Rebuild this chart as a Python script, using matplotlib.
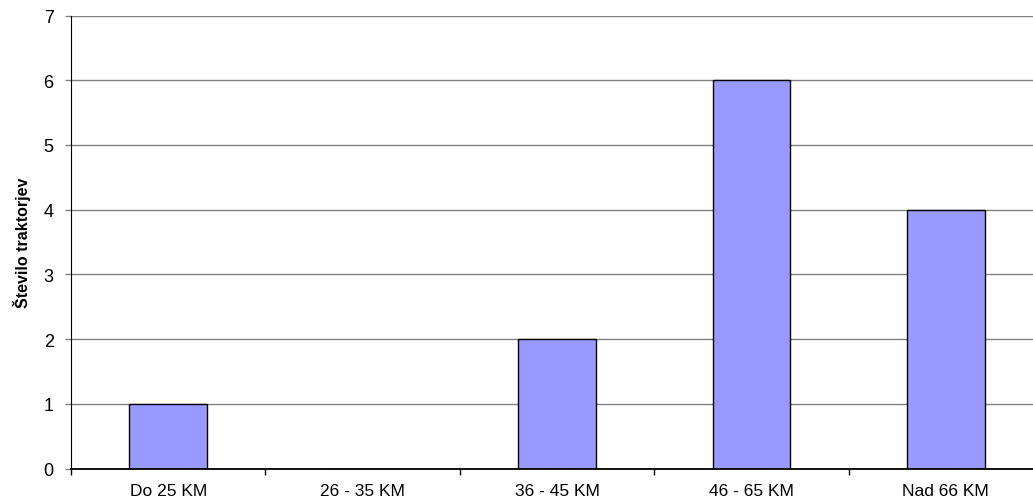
import matplotlib
matplotlib.use("Agg")
import matplotlib.pyplot as plt
import numpy as np

categories = ["Do 25 KM", "26 - 35 KM", "36 - 45 KM", "46 - 65 KM", "Nad 66 KM"]
values = [1, 0, 2, 6, 4]
y_ticks = [0, 1, 2, 3, 4, 5, 6, 7]
y_label = "Število traktorjev"

plt.rcParams['font.family'] = ['Liberation Sans', 'DejaVu Sans']

fig = plt.figure(figsize=(10.33, 5.02), dpi=100)
ax = fig.add_axes([71/1033, 1 - 469.5/502, 972/1033, 453/502])

x = np.arange(len(categories))
ax.bar(x, values, width=0.4, color='#9999FF', edgecolor='black', linewidth=1.0, zorder=3)

ax.set_xlim(-0.5, len(categories) - 0.5)
ax.set_ylim(0, 7)
ax.set_yticks(y_ticks)
ax.set_yticklabels([str(v) for v in y_ticks], fontsize=13)
ax.yaxis.grid(True, color='#808080', linewidth=1.0, zorder=0)

ax.set_xticks(np.arange(-0.5, len(categories), 1.0))
ax.set_xticklabels([])
ax.set_xticks(x, minor=True)
ax.set_xticklabels(categories, minor=True, fontsize=12.5)
ax.tick_params(axis='x', which='major', direction='out', length=4.5, width=1, color='black')
ax.tick_params(axis='x', which='minor', length=0, pad=10.5)
ax.tick_params(axis='y', direction='out', length=4.5, width=1, color='#808080', pad=8)

for s in ['top', 'right']:
    ax.spines[s].set_visible(False)
ax.spines['left'].set_color('black')
ax.spines['bottom'].set_color('black')
ax.spines['left'].set_zorder(4)
ax.spines['bottom'].set_zorder(4)
ax.spines['bottom'].set_linewidth(1.3)

ax.set_ylabel(y_label, fontsize=11.5, fontweight='bold')
ax.yaxis.set_label_coords(-40/972, 0.5)

fig.savefig("out.png", dpi=100)
